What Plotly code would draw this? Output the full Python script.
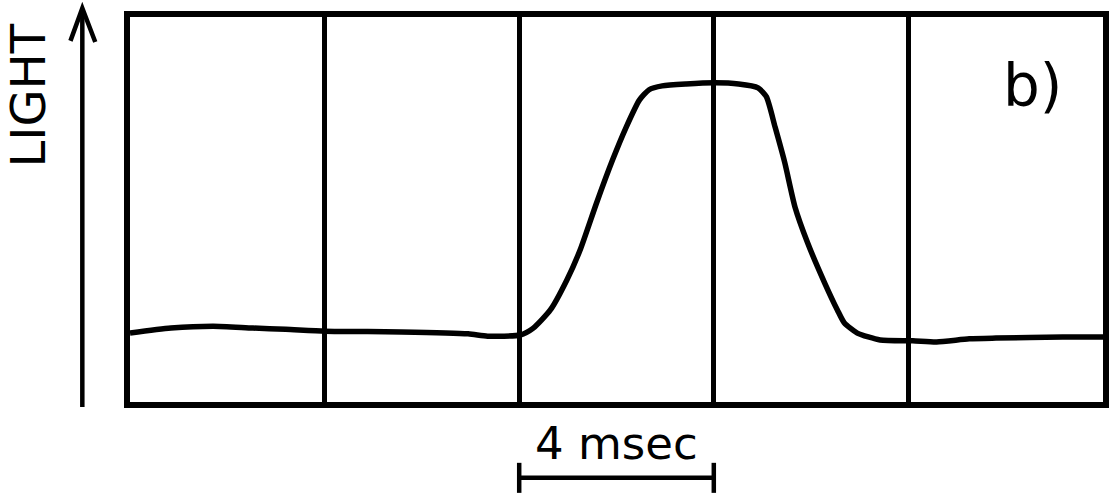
import plotly.graph_objects as go

# time in msec, light in arbitrary units (0..10 across the frame)
time_ms = [0, 0.84, 1.71, 2.53, 3.20, 4.01, 5.58, 6.95, 7.35, 8.02,
           8.29, 8.64, 8.98, 9.25, 9.59, 9.92, 10.20, 10.47, 10.67, 10.94,
           11.43, 12.02, 12.51, 12.91, 13.08, 13.26, 13.46, 13.67, 13.93, 14.28,
           14.54, 14.68, 14.95, 15.42, 16.09, 16.58, 17.25, 17.80, 19.17, 20.0]
light = [1.79, 1.92, 1.97, 1.92, 1.89, 1.84, 1.82, 1.77, 1.71, 1.74,
         1.92, 2.39, 3.17, 3.94, 5.17, 6.29, 7.14, 7.84, 8.11, 8.21,
         8.26, 8.29, 8.26, 8.16, 7.93, 7.14, 6.21, 5.06, 4.13, 3.09,
         2.39, 2.06, 1.79, 1.61, 1.59, 1.56, 1.64, 1.66, 1.69, 1.69]
grid_ticks = [4, 8, 12, 16]
scale_start = 8
scale_len = 4

fig = go.Figure()
fig.add_trace(go.Scatter(x=time_ms, y=light, mode="lines",
                         line=dict(color="black", width=5.5, shape="spline", smoothing=0.6),
                         hoverinfo="skip", showlegend=False))

font = "DejaVu Sans"
shapes = [
    # y arrow shaft
    dict(type="line", xref="paper", yref="paper", x0=-0.049, x1=-0.049, y0=-0.013, y1=1.018,
         line=dict(color="black", width=4.5)),
    # arrow head
    dict(type="path", xref="paper", yref="paper",
         path="M -0.0612,0.938 L -0.049,1.023 L -0.0357,0.935",
         line=dict(color="black", width=4.5)),
    # scale bar
    dict(type="line", xref="x", yref="paper", x0=scale_start, x1=scale_start + scale_len,
         y0=-0.197, y1=-0.197, line=dict(color="black", width=4.5)),
    dict(type="line", xref="x", yref="paper", x0=scale_start, x1=scale_start,
         y0=-0.158, y1=-0.236, line=dict(color="black", width=4.5)),
    dict(type="line", xref="x", yref="paper", x0=scale_start + scale_len, x1=scale_start + scale_len,
         y0=-0.158, y1=-0.236, line=dict(color="black", width=4.5)),
]

annotations = [
    dict(text="LIGHT", xref="paper", yref="paper", x=-0.1045, y=0.797, textangle=-90,
         showarrow=False, font=dict(family=font, size=48, color="black"),
         xanchor="center", yanchor="middle"),
    dict(text="b)", xref="x", yref="paper", x=18.55, y=0.82, showarrow=False,
         font=dict(family=font, size=58, color="black"), xanchor="center", yanchor="middle"),
    dict(text="4 msec", xref="x", yref="paper", x=scale_start + scale_len / 2, y=-0.109,
         showarrow=False, font=dict(family=font, size=45, color="black"),
         xanchor="center", yanchor="middle"),
]

fig.update_layout(
    width=1113, height=499,
    margin=dict(l=130, r=4, t=17, b=97),
    paper_bgcolor="white", plot_bgcolor="white",
    shapes=shapes, annotations=annotations,
    xaxis=dict(range=[0, 20], tickvals=grid_ticks, showticklabels=False, ticks="",
               showgrid=True, gridcolor="black", gridwidth=4.5, zeroline=False,
               showline=True, mirror=True, linecolor="black", linewidth=6, fixedrange=True),
    yaxis=dict(range=[0, 10], showticklabels=False, ticks="", showgrid=False, zeroline=False,
               showline=True, mirror=True, linecolor="black", linewidth=6, fixedrange=True),
)

fig.write_html("out.html", config={"displayModeBar": False})
